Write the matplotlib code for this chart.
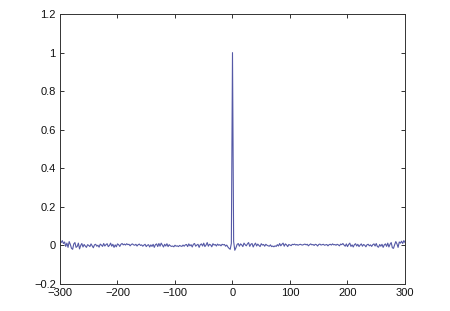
import matplotlib
matplotlib.use('Agg')
import matplotlib.pyplot as plt
import numpy as np
from matplotlib.ticker import FuncFormatter

# lags sampled every 2 from -300 to 300
lags = np.arange(-300, 301, 2)

# values (negative lags, -300 .. -2)
neg_side = [
    0.02, 0.015, 0.025, 0.01, 0.018, -0.005, 0.012, -0.01, 0.02, 0.005,
    -0.015, -0.02, 0.008, 0.015, -0.01, -0.005, 0.012, -0.018, 0.0, 0.01,
    -0.008, 0.005, -0.003, -0.01, 0.004, 0.0, -0.006, 0.008, -0.002, -0.012,
    0.003, 0.006, -0.004, 0.001, -0.009, 0.007, 0.002, -0.005, 0.01, -0.003,
    0.004, 0.009, -0.006, 0.0, 0.012, -0.004, 0.006, -0.01, 0.003, -0.007,
    0.008, 0.004, -0.005, 0.006, 0.01, 0.003, 0.007, 0.002, 0.009, 0.004,
    0.006, -0.002, 0.005, 0.008, 0.003, 0.001, 0.006, -0.003, 0.004, 0.007,
    0.0, 0.003, -0.004, 0.002, 0.006, -0.006, 0.001, 0.004, -0.008, 0.003,
    -0.005, 0.006, -0.01, 0.004, 0.008, -0.006, 0.01, -0.004, 0.012, 0.002,
    -0.008, 0.006, -0.003, 0.009, -0.006, 0.004, -0.002, -0.005, -0.003, -0.007,
    0.001, -0.004, -0.002, -0.006, 0.0, -0.003, -0.005, 0.002, -0.004, 0.003,
    0.005, -0.006, 0.008, -0.002, 0.004, -0.008, 0.006, 0.01, -0.004, 0.002,
    0.006, -0.01, 0.004, 0.008, -0.003, 0.012, -0.006, 0.002, 0.015, -0.004,
    0.006, 0.003, -0.007, 0.009, 0.002, 0.005, -0.003, 0.007, 0.001, 0.004,
    -0.002, 0.006, 0.003, 0.005, -0.004, 0.002, -0.008, -0.015, -0.02, 0.01,
]
peak = [1.0]
# positive lags, 2 .. 300
pos_side = [
    0.02, -0.025, -0.012, 0.005, 0.01, -0.004, 0.008, 0.003, -0.006, 0.012,
    0.004, -0.002, 0.008, 0.015, -0.005, 0.006, 0.01, -0.008, 0.004, 0.012,
    -0.003, 0.007, 0.0, -0.006, 0.009, 0.002, 0.005, -0.004, 0.006, 0.001,
    -0.002, -0.004, 0.003, -0.006, -0.003, -0.007, -0.002, -0.005, 0.004, -0.003,
    0.01, -0.002, 0.006, 0.012, -0.004, 0.008, 0.003, -0.006, 0.005, 0.002,
    -0.001, 0.006, 0.004, 0.007, 0.002, 0.005, 0.001, 0.004, 0.006, 0.003,
    0.002, 0.005, 0.007, 0.003, 0.006, -0.002, 0.004, 0.008, 0.003, 0.005,
    0.0, 0.006, 0.004, -0.003, 0.005, 0.007, 0.002, 0.004, 0.006, 0.001,
    0.003, 0.005, -0.002, 0.004, 0.006, 0.002, 0.008, 0.003, 0.005, 0.001,
    0.006, 0.003, -0.002, 0.007, 0.004, 0.01, 0.002, -0.004, 0.008, -0.006,
    0.005, 0.012, -0.005, 0.003, -0.008, 0.004, 0.009, -0.003, 0.006, -0.006,
    0.002, 0.008, -0.004, 0.005, 0.001, -0.007, 0.004, 0.006, -0.002, 0.003,
    -0.005, 0.004, 0.008, -0.003, 0.01, -0.006, -0.009, 0.005, -0.004, 0.006,
    -0.01, 0.003, 0.008, -0.005, 0.012, -0.008, 0.006, 0.015, -0.012, -0.015,
    0.004, 0.02, 0.008, -0.01, 0.018, 0.012, 0.022, 0.01, 0.025, 0.015,
]
corr = np.array(neg_side + peak + pos_side)

xticks = [-300, -200, -100, 0, 100, 200, 300]
yticks = [-0.2, 0, 0.2, 0.4, 0.6, 0.8, 1, 1.2]

plt.rcParams['font.family'] = ['Liberation Sans', 'DejaVu Sans']

fig = plt.figure(figsize=(4.5, 3.11), dpi=100)
ax = fig.add_axes([0.1333, 0.0868, 0.7667, 0.868])

ax.plot(lags, corr, color='#5559a6', linewidth=0.8)

ax.set_xlim(-300, 300)
ax.set_ylim(-0.2, 1.2)
ax.set_xticks(xticks)
ax.set_yticks(yticks)
fmt = FuncFormatter(lambda v, p: ('%g' % v).replace('-', '\u2212'))
ax.xaxis.set_major_formatter(fmt)
ax.yaxis.set_major_formatter(fmt)
ax.tick_params(direction='in', top=True, right=True, length=3, width=0.6,
               labelsize=8, colors='#111111', pad=3)
for s in ax.spines.values():
    s.set_linewidth(0.7)
    s.set_color('#333333')

fig.savefig('out.png', dpi=100)
